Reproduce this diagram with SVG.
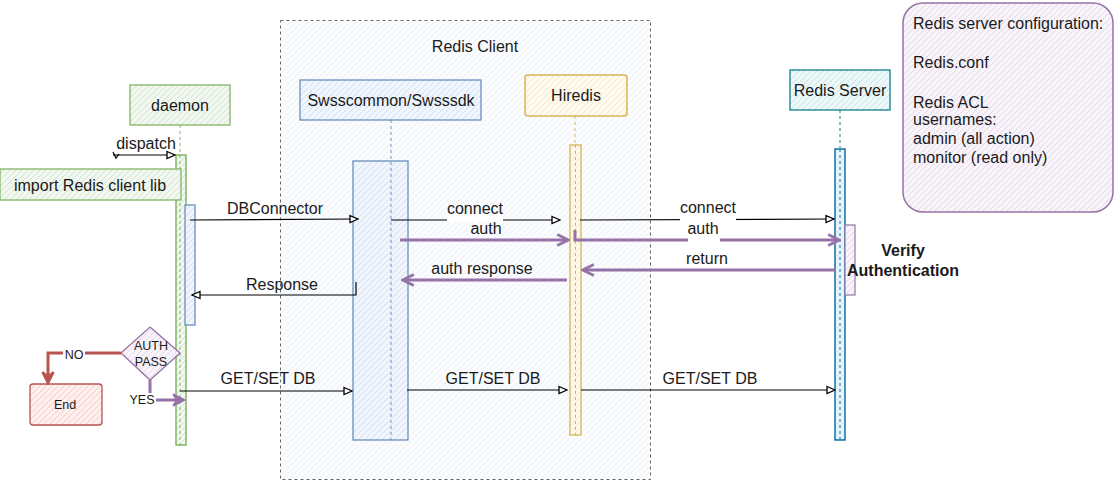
<svg xmlns="http://www.w3.org/2000/svg" width="1116" height="481" viewBox="0 0 1116 481">
<defs>
<pattern id="hG" patternUnits="userSpaceOnUse" width="6" height="6"><rect width="6" height="6" fill="#f2f8f1"/><path d="M-1,1 L1,-1 M0,6 L6,0 M5,7 L7,5" stroke="#c9dfc4" stroke-width="0.8"/></pattern>
<pattern id="hB" patternUnits="userSpaceOnUse" width="6" height="6"><rect width="6" height="6" fill="#f1f6fd"/><path d="M-1,1 L1,-1 M0,6 L6,0 M5,7 L7,5" stroke="#c8d9f0" stroke-width="0.8"/></pattern>
<pattern id="hY" patternUnits="userSpaceOnUse" width="6" height="6"><rect width="6" height="6" fill="#fffaf0"/><path d="M-1,1 L1,-1 M0,6 L6,0 M5,7 L7,5" stroke="#f5e3b8" stroke-width="0.8"/></pattern>
<pattern id="hT" patternUnits="userSpaceOnUse" width="6" height="6"><rect width="6" height="6" fill="#eef8f8"/><path d="M-1,1 L1,-1 M0,6 L6,0 M5,7 L7,5" stroke="#b5e0e2" stroke-width="0.8"/></pattern>
<pattern id="hP" patternUnits="userSpaceOnUse" width="6" height="6"><rect width="6" height="6" fill="#f8f4fa"/><path d="M-1,1 L1,-1 M0,6 L6,0 M5,7 L7,5" stroke="#ddd0e4" stroke-width="0.8"/></pattern>
<pattern id="hR" patternUnits="userSpaceOnUse" width="6" height="6"><rect width="6" height="6" fill="#fdf0ef"/><path d="M-1,1 L1,-1 M0,6 L6,0 M5,7 L7,5" stroke="#f0bdb9" stroke-width="0.8"/></pattern>
<pattern id="hC" patternUnits="userSpaceOnUse" width="6" height="6"><rect width="6" height="6" fill="#fbfcfe"/><path d="M-1,1 L1,-1 M0,6 L6,0 M5,7 L7,5" stroke="#e9eef4" stroke-width="0.8"/></pattern>
<marker id="aB" viewBox="0 0 10 10" refX="9" refY="5" markerWidth="10" markerHeight="10" markerUnits="userSpaceOnUse" orient="auto"><path d="M1,1.5 L9,5 L1,8.5 Z" fill="#fff" stroke="#000" stroke-width="1.3"/></marker>
<marker id="aP" viewBox="0 0 10 10" refX="8" refY="5" markerWidth="14" markerHeight="14" markerUnits="userSpaceOnUse" orient="auto"><path d="M1,1 L9,5 L1,9" fill="none" stroke="#9673a6" stroke-width="2"/></marker>
<marker id="aR" viewBox="0 0 10 10" refX="8" refY="5" markerWidth="14" markerHeight="14" markerUnits="userSpaceOnUse" orient="auto"><path d="M1,1 L9,5 L1,9 L4,5 Z" fill="#b85450" stroke="#b85450" stroke-width="1.5"/></marker>
<marker id="aPf" viewBox="0 0 10 10" refX="8" refY="5" markerWidth="14" markerHeight="14" markerUnits="userSpaceOnUse" orient="auto"><path d="M1,1 L9,5 L1,9 L4,5 Z" fill="#9673a6" stroke="#9673a6" stroke-width="1.5"/></marker>
</defs>
<style>
text{font-family:"Liberation Sans",Arial,sans-serif;font-size:16px;fill:#1a1a1a}
.c{text-anchor:middle}
.s{font-size:12.5px}
.b{font-weight:bold}
.life{fill:none;stroke-width:1;stroke-dasharray:3 3}
.msg{fill:none;stroke:#000;stroke-width:1.2}
.pm{fill:none;stroke:#9673a6;stroke-width:3}
</style>
<rect width="1116" height="481" fill="#fff"/>

<g id="redis-client">
<rect x="280.5" y="20.5" width="370" height="459" fill="url(#hC)" stroke="#666" stroke-width="1" stroke-dasharray="3 3"/>
<text class="c" x="475" y="52">Redis Client</text>
</g>

<g id="daemon">
<rect x="130" y="85" width="100" height="40" fill="url(#hG)" stroke="#82b366" stroke-width="1.3"/>
<text class="c" x="180" y="111">daemon</text>
<line class="life" x1="180" y1="125" x2="180" y2="445" stroke="#82b366"/>
<rect x="176" y="155" width="10" height="290" fill="url(#hG)" stroke="#82b366" stroke-width="1.5"/>
<line class="life" x1="180" y1="155" x2="180" y2="445" stroke="#82b366"/>
<rect x="185" y="205" width="10" height="120" fill="url(#hB)" stroke="#6c8ebf" stroke-width="1.3"/>
</g>

<g id="import-lib">
<rect x="0" y="169" width="181" height="31" fill="url(#hG)" stroke="#82b366" stroke-width="1.3"/>
<text class="c" x="90" y="191">import Redis client lib</text>
</g>

<g id="swsscommon">
<rect x="300" y="80" width="181" height="40" fill="url(#hB)" stroke="#6c8ebf" stroke-width="1.3"/>
<text class="c" x="391" y="106">Swsscommon/Swsssdk</text>
<rect x="353" y="161" width="55" height="279" fill="url(#hB)" stroke="#6c8ebf" stroke-width="1.3"/>
<line class="life" x1="391" y1="120" x2="391" y2="440" stroke="#6c8ebf"/>
</g>

<g id="hiredis">
<rect x="525" y="75" width="102" height="41" rx="3" fill="url(#hY)" stroke="#d6b656" stroke-width="1.5"/>
<text class="c" x="576" y="101">Hiredis</text>
<line class="life" x1="575" y1="116" x2="575" y2="145" stroke="#d6b656" stroke-width="1.5"/>
<rect x="570" y="145" width="11" height="290" fill="url(#hY)" stroke="#d6b656" stroke-width="1.3"/>
<line class="life" x1="575.5" y1="145" x2="575.5" y2="435" stroke="#d6b656"/>
</g>

<g id="redis-server">
<rect x="790" y="70" width="100" height="40" fill="url(#hT)" stroke="#0e8088" stroke-width="1.3"/>
<text class="c" x="840" y="96">Redis Server</text>
<line class="life" x1="840" y1="110" x2="840" y2="148" stroke="#0e8088" stroke-width="1.3"/>
<rect x="835" y="149" width="10" height="291" fill="#e6f3fa" stroke="#10739e" stroke-width="1.5"/>
<line class="life" x1="840" y1="149" x2="840" y2="440" stroke="#10739e"/>
<rect x="845" y="225" width="10" height="70" fill="url(#hP)" stroke="#9673a6" stroke-width="1.2"/>
</g>

<g id="verify-note">
<text class="c b" x="903" y="256">Verify</text>
<text class="c b" x="903" y="276">Authentication</text>
</g>

<g id="config">
<rect x="903" y="3" width="210" height="209" rx="20" fill="url(#hP)" stroke="#9673a6" stroke-width="1.5"/>
<text x="913" y="29">Redis server configuration:</text>
<text x="913" y="68">Redis.conf</text>
<text x="913" y="108">Redis ACL</text>
<text x="913" y="125">usernames:</text>
<text x="913" y="144">admin (all action)</text>
<text x="913" y="163">monitor (read only)</text>
</g>

<g id="auth-pass">
<polygon points="150,327 180,353 150,380 121,353" fill="url(#hP)" stroke="#9673a6" stroke-width="1.3"/>
<text class="c s" x="151" y="350">AUTH</text>
<text class="c s" x="151" y="366">PASS</text>
</g>

<g id="end">
<rect x="30" y="384" width="72" height="41" rx="3" fill="url(#hR)" stroke="#b85450" stroke-width="1.3"/>
<text class="c s" x="65" y="409">End</text>
</g>

<g id="connectors">
<path class="msg" d="M113,155 L175,155" marker-end="url(#aB)"/>
<path d="M113,152 L116,158 L119,154" fill="none" stroke="#000" stroke-width="1.2"/>
<text class="c" x="146" y="149">dispatch</text>

<path class="msg" d="M190,220 L358,219" marker-end="url(#aB)"/>
<text class="c" x="275" y="214">DBConnector</text>

<path class="msg" d="M356,282 L356,295 L192,295" marker-end="url(#aB)"/>
<text class="c" x="282" y="290">Response</text>

<path class="msg" d="M391,220 L560,220" marker-end="url(#aB)"/>
<rect x="447" y="214" width="56" height="8" fill="#fff"/>
<text class="c" x="475" y="214">connect</text>

<path class="pm" d="M400,240 L567,240" marker-end="url(#aP)"/>
<text class="c" x="486" y="234">auth</text>

<path class="pm" d="M567,280 L404,280" marker-end="url(#aP)"/>
<text class="c" x="482" y="274">auth response</text>

<path class="msg" d="M580,220 L834,219" marker-end="url(#aB)"/>
<rect x="680" y="213" width="56" height="9" fill="#fff"/>
<text class="c" x="708" y="213">connect</text>

<path class="pm" d="M575,230 L575,240 L838,240" marker-end="url(#aP)"/>
<rect x="688" y="236" width="32" height="8" fill="#fff"/>
<text class="c" x="703" y="234">auth</text>

<path class="pm" d="M835,270 L584,270" marker-end="url(#aP)"/>
<text class="c" x="707" y="264">return</text>

<path class="msg" d="M180,391 L352,391" marker-end="url(#aB)"/>
<text class="c" x="268" y="384">GET/SET DB</text>

<path class="msg" d="M407,390 L567,390" marker-end="url(#aB)"/>
<text class="c" x="493" y="384">GET/SET DB</text>

<path class="msg" d="M581,390 L835,390" marker-end="url(#aB)"/>
<text class="c" x="710" y="384">GET/SET DB</text>

<path d="M121,353 L48,353 L48,382" fill="none" stroke="#b85450" stroke-width="3" marker-end="url(#aR)"/>
<rect x="63" y="346" width="22" height="14" fill="#fff"/>
<text class="c s" x="74" y="359">NO</text>

<path d="M150,380 L150,400 L183,400" fill="none" stroke="#9673a6" stroke-width="3" marker-end="url(#aPf)"/>
<rect x="128" y="393" width="28" height="14" fill="#fff"/>
<text class="c s" x="142" y="404">YES</text>
</g>
</svg>
